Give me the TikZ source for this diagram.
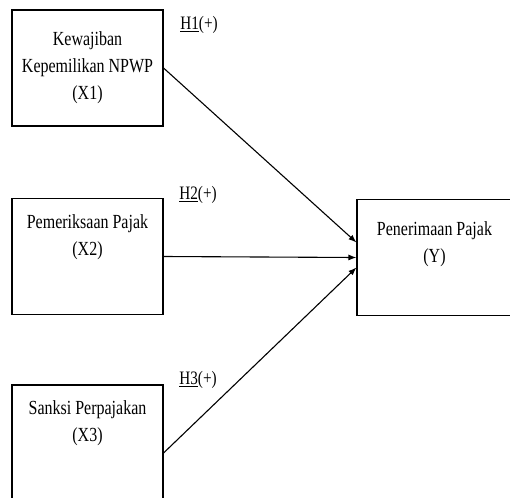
\documentclass[tikz,border=0pt]{standalone}
\usepackage{fontspec}
\setmainfont[FakeStretch=0.8]{Liberation Serif}
\usetikzlibrary{arrows.meta}

\begin{document}
\begin{tikzpicture}[x=1pt, y=-1pt, line width=1.1pt]

\clip (0,0) rectangle (510,497);

\tikzset{
    varbox/.style={draw, rectangle, minimum width=151pt, minimum height=116pt, inner sep=0pt},
    vartext/.style={align=center, font=\fontsize{20}{27}\selectfont},
    hyplabel/.style={font=\fontsize{19}{27}\selectfont}
}

\node[varbox] (x1box) at (87.5, 68) {};
\node[varbox] (x2box) at (87.5, 256.5) {};
\node[varbox] (x3box) at (87.5, 443) {};
\node[varbox, minimum width=155pt] (ybox) at (434.5, 257.5) {};

\node[vartext] (x1text) at (87.5, 68) {Kewajiban\\Kepemilikan NPWP\\(X1)};
\node[vartext] (x2text) at (87.5, 237.5) {Pemeriksaan Pajak\\(X2)};
\node[vartext] (x3text) at (87.5, 423.5) {Sanksi Perpajakan\\(X3)};
\node[vartext] (ytext) at (434.5, 244) {Penerimaan Pajak\\(Y)};

% Top arrow
\draw [-{Latex[length=8pt,width=6pt]}] (x1box.east) -- ([yshift=15pt]ybox.west);
% Middle arrow
\draw [-{Latex[length=8pt,width=6pt]}] (x2box.east) -- (ybox.west);
% Bottom arrow
\draw [-{Latex[length=8pt,width=6pt]}] ([yshift=-10pt]x3box.east) -- ([yshift=-10pt]ybox.west);

\node[hyplabel] (h1) at (199, 25) {\underline{H1}(+)};
\node[hyplabel] (h2) at (198, 195) {\underline{H2}(+)};
\node[hyplabel] (h3) at (198, 380) {\underline{H3}(+)};

\end{tikzpicture}
\end{document}
